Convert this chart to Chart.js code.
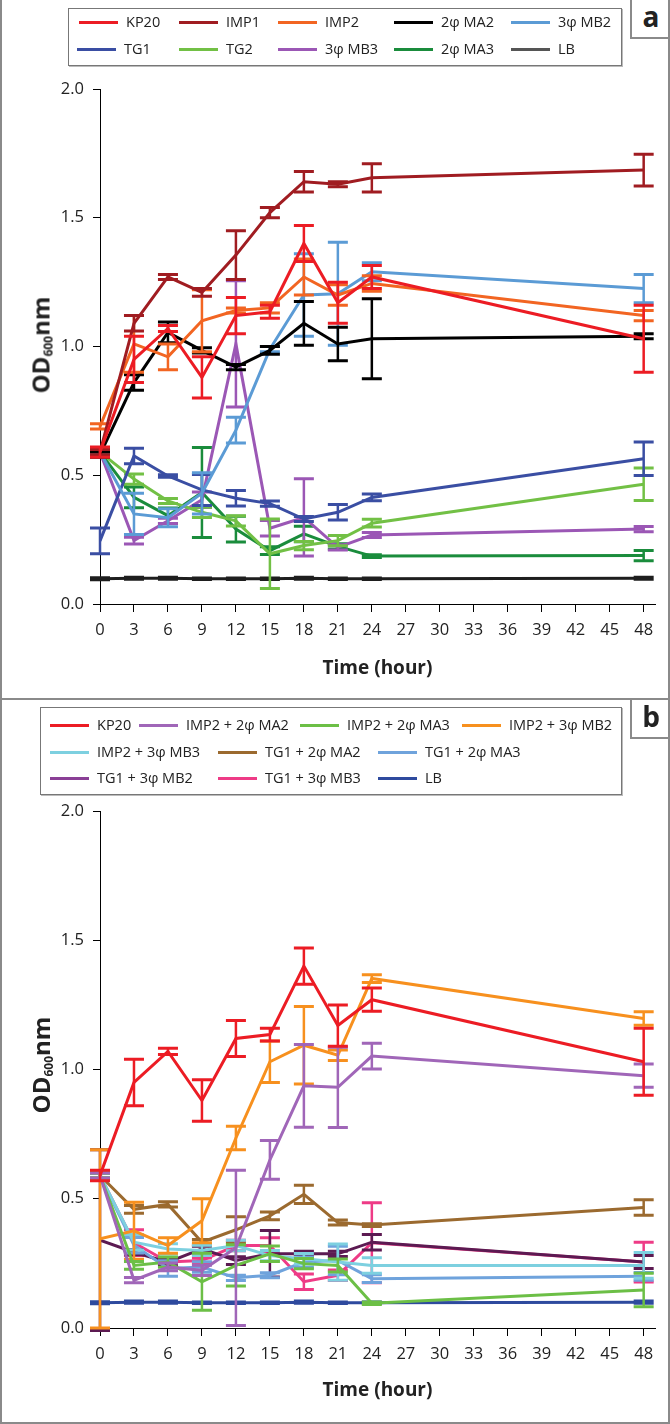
<!DOCTYPE html>
<html>
<head>
<meta charset="utf-8">
<script src="https://cdn.jsdelivr.net/npm/chart.js@4.4.0/dist/chart.umd.min.js"></script>
<style>
html, body { margin: 0; padding: 0; background: #fff; }
body { width: 670px; height: 1424px; position: relative; overflow: hidden; font-family: "Open Sans", sans-serif; color: #222; }
.panel { position: absolute; left: 0; width: 670px; }
.panel canvas { position: absolute; left: 0; top: 0; }
.frame { position: absolute; left: 0; top: 0; width: 670px; height: 1424px; box-sizing: border-box; border: 2px solid #8a8a8a; border-top: none; pointer-events: none; }
.sep { position: absolute; left: 0; top: 698px; width: 670px; height: 2px; background: #8a8a8a; }
.tag { position: absolute; left: 630px; width: 40px; height: 40px; box-sizing: border-box; border-left: 2px solid #8a8a8a; border-bottom: 2px solid #8a8a8a; font-weight: bold; font-size: 28px; text-align: center; line-height: 34px; background: #fff; }
.legend { position: absolute; box-sizing: border-box; border: 1px solid #777; box-shadow: 1px 1px 0 #bbb; background: #fff; }
.item { position: absolute; white-space: nowrap; font-size: 14.5px; line-height: 18px; }
.item i { position: absolute; left: 0; top: 8px; width: 39px; height: 3px; }
.item span { position: absolute; left: 47px; top: 0; }
.ytitle { position: absolute; transform: translate(-50%, -50%) rotate(-90deg); font-weight: bold; font-size: 24px; white-space: nowrap; }
.ytitle sub { font-size: 12px; vertical-align: -3px; }
</style>
</head>
<body>
<div class="panel" id="panel-a" style="top:0;height:699px">
  <canvas id="chart-a" width="670" height="699"></canvas>
  <div class="legend" style="left:68px;top:8px;width:554px;height:58px"></div>
  <div class="ytitle" style="left:40px;top:345px">OD<sub>600</sub>nm</div>
  <div class="tag" style="top:-1px">a</div>
</div>
<div class="panel" id="panel-b" style="top:699px;height:725px">
  <canvas id="chart-b" width="670" height="725"></canvas>
  <div class="legend" style="left:40px;top:8px;width:582px;height:88px"></div>
  <div class="ytitle" style="left:40px;top:366px">OD<sub>600</sub>nm</div>
  <div class="tag" style="top:0">b</div>
</div>
<div class="frame"></div>
<div class="sep"></div>
<script>
const hours = [0, 3, 6, 9, 12, 15, 18, 21, 24, 48];
const hourTicks = [0, 3, 6, 9, 12, 15, 18, 21, 24, 27, 30, 33, 36, 39, 42, 45, 48];
const odTicks = [0, 0.5, 1, 1.5, 2];

// panel a
const kp20 = [0.59, 0.95, 1.07, 0.88, 1.12, 1.135, 1.40, 1.17, 1.27, 1.03];
const kp20Err = [0.02, 0.09, 0.012, 0.08, 0.07, 0.025, 0.07, 0.08, 0.045, 0.13];
const imp1 = [0.59, 1.09, 1.27, 1.21, 1.355, 1.52, 1.64, 1.63, 1.655, 1.685];
const imp1Err = [0.01, 0.03, 0.01, 0.015, 0.095, 0.02, 0.04, 0.01, 0.055, 0.062];
const imp2 = [0.69, 1.01, 0.96, 1.10, 1.14, 1.15, 1.27, 1.20, 1.245, 1.12];
const imp2Err = [0.01, 0.11, 0.05, 0.12, 0.01, 0.02, 0.07, 0.04, 0.03, 0.02];
const ma2 = [0.58, 0.86, 1.055, 0.985, 0.92, 0.985, 1.09, 1.01, 1.03, 1.04];
const ma2Err = [0.01, 0.03, 0.04, 0.01, 0.01, 0.015, 0.085, 0.065, 0.155, 0.01];
const mb2 = [0.59, 0.35, 0.335, 0.43, 0.675, 0.99, 1.20, 1.205, 1.29, 1.225];
const mb2Err = [0.01, 0.08, 0.035, 0.08, 0.05, 0.01, 0.16, 0.2, 0.035, 0.055];
const tg1 = [0.245, 0.575, 0.497, 0.443, 0.411, 0.39, 0.33, 0.356, 0.414, 0.564];
const tg1Err = [0.05, 0.03, 0.005, 0.06, 0.03, 0.01, 0.01, 0.03, 0.013, 0.065];
const tg2 = [0.59, 0.485, 0.40, 0.356, 0.323, 0.195, 0.227, 0.246, 0.314, 0.465];
const tg2Err = [0.01, 0.02, 0.01, 0.02, 0.02, 0.135, 0.016, 0.02, 0.015, 0.063];
const mb3 = [0.59, 0.246, 0.323, 0.405, 1.01, 0.294, 0.336, 0.22, 0.268, 0.291];
const mb3Err = [0.01, 0.013, 0.01, 0.03, 0.245, 0.03, 0.15, 0.01, 0.01, 0.01];
const ma3 = [0.59, 0.414, 0.343, 0.433, 0.291, 0.207, 0.272, 0.224, 0.186, 0.188];
const ma3Err = [0.01, 0.04, 0.03, 0.175, 0.05, 0.015, 0.03, 0.01, 0.005, 0.02];
const lbA = [0.098, 0.10, 0.10, 0.098, 0.098, 0.098, 0.10, 0.098, 0.098, 0.10];
const lbAErr = [0.004, 0.004, 0.004, 0.003, 0.003, 0.003, 0.004, 0.003, 0.003, 0.004];

// panel b
const imp2Ma2 = [0.59, 0.185, 0.236, 0.223, 0.31, 0.65, 0.937, 0.931, 1.052, 0.976];
const imp2Ma2Err = [0.01, 0.01, 0.015, 0.02, 0.3, 0.075, 0.16, 0.155, 0.05, 0.045];
const imp2Ma3 = [0.59, 0.242, 0.255, 0.179, 0.242, 0.287, 0.249, 0.242, 0.096, 0.147];
const imp2Ma3Err = [0.01, 0.015, 0.02, 0.11, 0.08, 0.03, 0.02, 0.025, 0.005, 0.065];
const imp2Mb2 = [0.345, 0.376, 0.319, 0.415, 0.735, 1.03, 1.094, 1.055, 1.352, 1.197];
const imp2Mb2Err = [0.345, 0.11, 0.03, 0.085, 0.045, 0.08, 0.15, 0.02, 0.015, 0.026];
const imp2Mb3 = [0.59, 0.332, 0.306, 0.30, 0.319, 0.28, 0.268, 0.255, 0.242, 0.242];
const imp2Mb3Err = [0.01, 0.03, 0.02, 0.02, 0.02, 0.02, 0.02, 0.07, 0.03, 0.05];
const tg1Ma2 = [0.59, 0.459, 0.478, 0.332, 0.38, 0.434, 0.517, 0.408, 0.398, 0.466];
const tg1Ma2Err = [0.01, 0.015, 0.01, 0.01, 0.05, 0.015, 0.035, 0.01, 0.005, 0.03];
const tg1Ma3 = [0.59, 0.32, 0.23, 0.236, 0.194, 0.204, 0.255, 0.261, 0.191, 0.2];
const tg1Ma3Err = [0.01, 0.03, 0.03, 0.02, 0.01, 0.01, 0.02, 0.055, 0.015, 0.015];
const tg1Mb2 = [0.34, 0.293, 0.255, 0.306, 0.261, 0.287, 0.287, 0.287, 0.332, 0.255];
const tg1Mb2Err = [0.35, 0.01, 0.01, 0.01, 0.015, 0.09, 0.01, 0.01, 0.03, 0.025];
const tg1Mb3 = [0.59, 0.33, 0.255, 0.261, 0.319, 0.319, 0.179, 0.204, 0.33, 0.255];
const tg1Mb3Err = [0.01, 0.05, 0.01, 0.01, 0.02, 0.03, 0.03, 0.02, 0.155, 0.077];
const lbB = [0.098, 0.10, 0.10, 0.098, 0.098, 0.098, 0.10, 0.098, 0.098, 0.10];
const lbBErr = [0.004, 0.004, 0.004, 0.003, 0.003, 0.003, 0.004, 0.003, 0.003, 0.004];

const seriesA = [
  { label: "KP20", data: kp20, err: kp20Err, color: "#ec1c24" },
  { label: "IMP1", data: imp1, err: imp1Err, color: "#a01c21" },
  { label: "IMP2", data: imp2, err: imp2Err, color: "#f26522" },
  { label: "2φ MA2", data: ma2, err: ma2Err, color: "#000000" },
  { label: "3φ MB2", data: mb2, err: mb2Err, color: "#5b9bd5" },
  { label: "TG1", data: tg1, err: tg1Err, color: "#3a4ea3" },
  { label: "TG2", data: tg2, err: tg2Err, color: "#72c045" },
  { label: "3φ MB3", data: mb3, err: mb3Err, color: "#9b57b5" },
  { label: "2φ MA3", data: ma3, err: ma3Err, color: "#1a8c3c" },
  { label: "LB", data: lbA, err: lbAErr, color: "#1e1e1e", key: "#555555" },
];

const seriesB = [
  { label: "KP20", data: kp20, err: kp20Err, color: "#ec1c24" },
  { label: "IMP2 + 2φ MA2", data: imp2Ma2, err: imp2Ma2Err, color: "#a066b8" },
  { label: "IMP2 + 2φ MA3", data: imp2Ma3, err: imp2Ma3Err, color: "#6cbf46" },
  { label: "IMP2 + 3φ MB2", data: imp2Mb2, err: imp2Mb2Err, color: "#f7901e" },
  { label: "IMP2 + 3φ MB3", data: imp2Mb3, err: imp2Mb3Err, color: "#7dd0e0" },
  { label: "TG1 + 2φ MA2", data: tg1Ma2, err: tg1Ma2Err, color: "#9b6a2f" },
  { label: "TG1 + 2φ MA3", data: tg1Ma3, err: tg1Ma3Err, color: "#6fa3dc" },
  { label: "TG1 + 3φ MB2", data: tg1Mb2, err: tg1Mb2Err, color: "#5c1a52", key: "#8a3f96" },
  { label: "TG1 + 3φ MB3", data: tg1Mb3, err: tg1Mb3Err, color: "#ee3b86" },
  { label: "LB", data: lbB, err: lbBErr, color: "#2e4a9e" },
];

// legend slots (left, top) inside each panel
const legendSlotsA = [[79, 13], [179, 13], [278, 13], [394, 13], [511, 13],
                      [77, 40], [179, 40], [278, 40], [394, 40], [511, 40]];
const legendSlotsB = [[50, 17], [139, 17], [300, 17], [462, 17],
                      [50, 44], [218, 44], [378, 44],
                      [50, 70], [218, 70], [378, 70]];

function buildLegend(panelId, series, slots) {
  const panel = document.getElementById(panelId);
  series.forEach((s, i) => {
    const el = document.createElement("div");
    el.className = "item";
    el.style.left = slots[i][0] + "px";
    el.style.top = slots[i][1] + "px";
    el.innerHTML = `<i style="background:${s.key || s.color}"></i><span>${s.label}</span>`;
    panel.appendChild(el);
  });
}

const errorBars = {
  id: "errorBars",
  afterDatasetDraw(chart, args) {
    const ds = chart.data.datasets[args.index];
    if (!ds.errors) return;
    const ctx = chart.ctx;
    const yScale = chart.scales.y;
    ctx.save();
    ctx.strokeStyle = ds.borderColor;
    args.meta.data.forEach((pt, i) => {
      const v = ds.data[i].y;
      const e = ds.errors[i];
      const top = yScale.getPixelForValue(v + e);
      const bot = yScale.getPixelForValue(v - e);
      ctx.lineWidth = 2.5;
      ctx.beginPath();
      ctx.moveTo(pt.x, top);
      ctx.lineTo(pt.x, bot);
      ctx.stroke();
      ctx.lineWidth = 3;
      ctx.beginPath();
      ctx.moveTo(pt.x - 10, top);
      ctx.lineTo(pt.x + 10, top);
      ctx.moveTo(pt.x - 10, bot);
      ctx.lineTo(pt.x + 10, bot);
      ctx.stroke();
    });
    ctx.restore();
  },
};

function makeChart(canvasId, series, padTop, xHeight, titleBottom) {
  const ctx = document.getElementById(canvasId).getContext("2d");
  return new Chart(ctx, {
    type: "line",
    data: {
      datasets: series.map((s) => ({
        label: s.label,
        data: hours.map((h, i) => ({ x: h, y: s.data[i] })),
        errors: s.err,
        borderColor: s.color,
        backgroundColor: s.color,
        borderWidth: 3,
        pointRadius: 0,
        tension: 0,
        fill: false,
      })),
    },
    options: {
      responsive: false,
      animation: false,
      layout: { padding: { top: padTop, right: 15, left: 0, bottom: 0 } },
      plugins: { legend: { display: false }, tooltip: { enabled: false } },
      scales: {
        x: {
          type: "linear",
          min: 0,
          max: 49,
          afterBuildTicks: (s) => { s.ticks = hourTicks.map((v) => ({ value: v })); },
          afterFit: (s) => { s.height = xHeight; },
          ticks: { color: "#222", font: { family: "Open Sans", size: 16.5 }, padding: 8, maxRotation: 0, autoSkip: false },
          grid: { drawOnChartArea: false, drawTicks: true, tickLength: 8, color: "#000" },
          border: { display: true, color: "#000", width: 1 },
          title: { display: true, text: "Time (hour)", color: "#222", font: { family: "Open Sans", size: 19, weight: "bold" }, padding: { top: 0, bottom: titleBottom } },
        },
        y: {
          min: 0,
          max: 2,
          afterBuildTicks: (s) => { s.ticks = odTicks.map((v) => ({ value: v })); },
          afterFit: (s) => { s.width = 100; },
          ticks: { color: "#222", font: { family: "Open Sans", size: 16.5 }, padding: 9, callback: (v) => Number(v).toFixed(1) },
          grid: { drawOnChartArea: false, drawTicks: true, tickLength: 7, color: "#000" },
          border: { display: true, color: "#000", width: 1 },
        },
      },
    },
    plugins: [errorBars],
  });
}

buildLegend("panel-a", seriesA, legendSlotsA);
buildLegend("panel-b", seriesB, legendSlotsB);
makeChart("chart-a", seriesA, 89, 95, 19);
makeChart("chart-b", seriesB, 112, 96, 22);
</script>
</body>
</html>
